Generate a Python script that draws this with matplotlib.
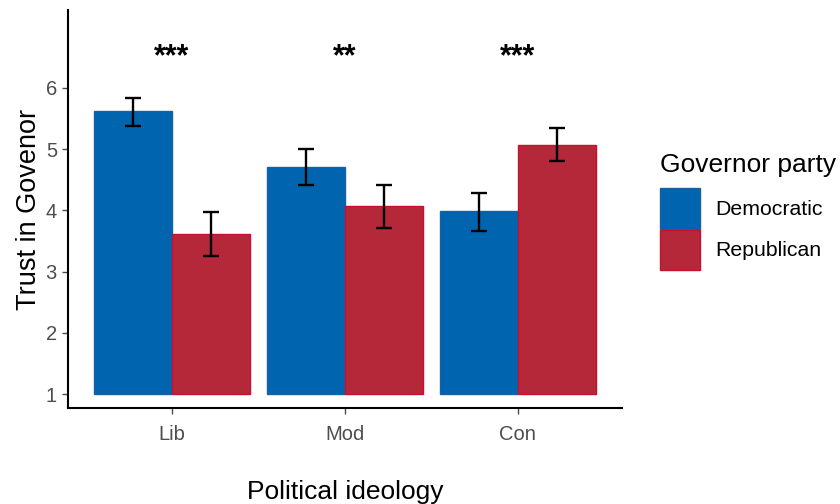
import matplotlib.pyplot as plt
import numpy as np

plt.rcParams['font.family'] = ['Liberation Sans', 'DejaVu Sans']

ideology = ["Lib", "Mod", "Con"]
parties = ["Democratic", "Republican"]
dem_mean = [5.62, 4.71, 3.99]
dem_lo = [5.38, 4.41, 3.67]
dem_hi = [5.84, 5.01, 4.28]
rep_mean = [3.61, 4.07, 5.07]
rep_lo = [3.25, 3.71, 4.80]
rep_hi = [3.98, 4.41, 5.34]
stars = ["***", "**", "***"]

fill = {"Democratic": "#0064AF", "Republican": "#B5283A"}
edge = {"Democratic": "#1A5FA8", "Republican": "#C8102E"}

fig = plt.figure(figsize=(8.4, 5.04), dpi=100)
ax = fig.add_axes([0.081, 0.19, 0.659, 0.79])

x = np.arange(1, len(ideology) + 1)
w = 0.45
base = 1
for off, name, mean, lo, hi in [(-w / 2, "Democratic", dem_mean, dem_lo, dem_hi),
                                 (w / 2, "Republican", rep_mean, rep_lo, rep_hi)]:
    mean = np.array(mean)
    ax.bar(x + off, mean - base, bottom=base, width=w, color=fill[name],
           edgecolor=edge[name], linewidth=1, label=name)
    err = [mean - np.array(lo), np.array(hi) - mean]
    ax.errorbar(x + off, mean, yerr=err, fmt="none", ecolor="black",
                elinewidth=1.7, capsize=6, capthick=1.7)

for xi, s in zip(x, stars):
    ax.text(xi, 6.5, s, ha="center", va="center", fontsize=22, fontweight="bold")

ax.set_xlim(0.4, 3.6)
ax.set_ylim(0.77, 7.27)
ax.set_xticks(x)
ax.set_xticklabels(ideology)
ax.set_yticks([1, 2, 3, 4, 5, 6])
ax.tick_params(axis="both", colors="#4D4D4D", labelsize=14.5, length=4, width=1)
ax.tick_params(axis="x", pad=8)
ax.tick_params(axis="y", pad=4)
for sp in ["top", "right"]:
    ax.spines[sp].set_visible(False)
for sp in ["left", "bottom"]:
    ax.spines[sp].set_linewidth(1.5)

ax.set_ylabel("Trust in Govenor", fontsize=19.5, labelpad=3)
ax.set_xlabel("Political ideology", fontsize=19, labelpad=26)

leg = fig.legend(title="Governor party", loc="upper left",
                 bbox_to_anchor=(660 / 840, 1 - 153 / 504),
                 frameon=False, fontsize=15.3, title_fontsize=19,
                 handlelength=1.9, handleheight=2.55, handletextpad=0.7,
                 labelspacing=0.05, borderaxespad=0, borderpad=0)
leg._legend_box.align = "left"
leg._legend_box.sep = 8

fig.savefig("out.png", dpi=100)
